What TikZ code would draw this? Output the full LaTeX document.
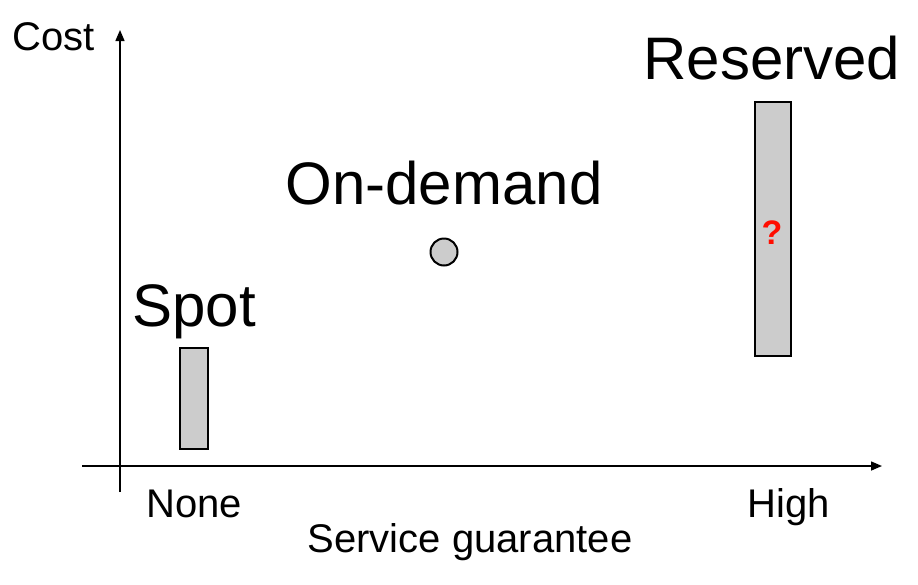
\documentclass[tikz,border=0pt]{standalone}
\usepackage{fontspec}
\setmainfont{Liberation Sans}
\usetikzlibrary{arrows.meta}
\begin{document}
\begin{tikzpicture}[x=1pt,y=-1pt,
  small/.style={font=\fontsize{40}{46}\selectfont, inner sep=0pt, anchor=base},
  big/.style={font=\fontsize{60}{66}\selectfont, inner sep=0pt, anchor=base},
  bar/.style={draw=black, line width=2pt, fill=black!20},
  axis/.style={line width=1.5pt, -{Triangle[length=11pt,width=9pt]}}]
\useasboundingbox (0,0) rectangle (918,584);
\coordinate (yb) at (120,492);
\coordinate (yt) at (120,30);
\coordinate (xl) at (82,466);
\coordinate (xr) at (882,466);
\draw[axis] (yb) -- (yt);
\draw[axis] (xl) -- (xr);
\node[small] (cost) at (54,50) {Cost};
\node[small] (none) at (194,517) {None};
\node[small] (high) at (789,517) {High};
\node[small] (sg) at (470,552) {Service guarantee};
\node[big] (spot) at (194,326) {Spot};
\node[big] (ond) at (444,204) {On-demand};
\node[big] (res) at (772,79) {Reserved};
\draw[bar] (180,348) rectangle (208,449);
\draw[bar] (755,102) rectangle (791,356);
\node[draw=black, line width=2pt, fill=black!20, circle, minimum size=27pt, inner sep=0pt] (od) at (444,252) {};
\node[font=\fontsize{34}{36}\selectfont\bfseries, text=red!90!orange, inner sep=0pt] (q) at (772,233) {?};
\end{tikzpicture}
\end{document}
